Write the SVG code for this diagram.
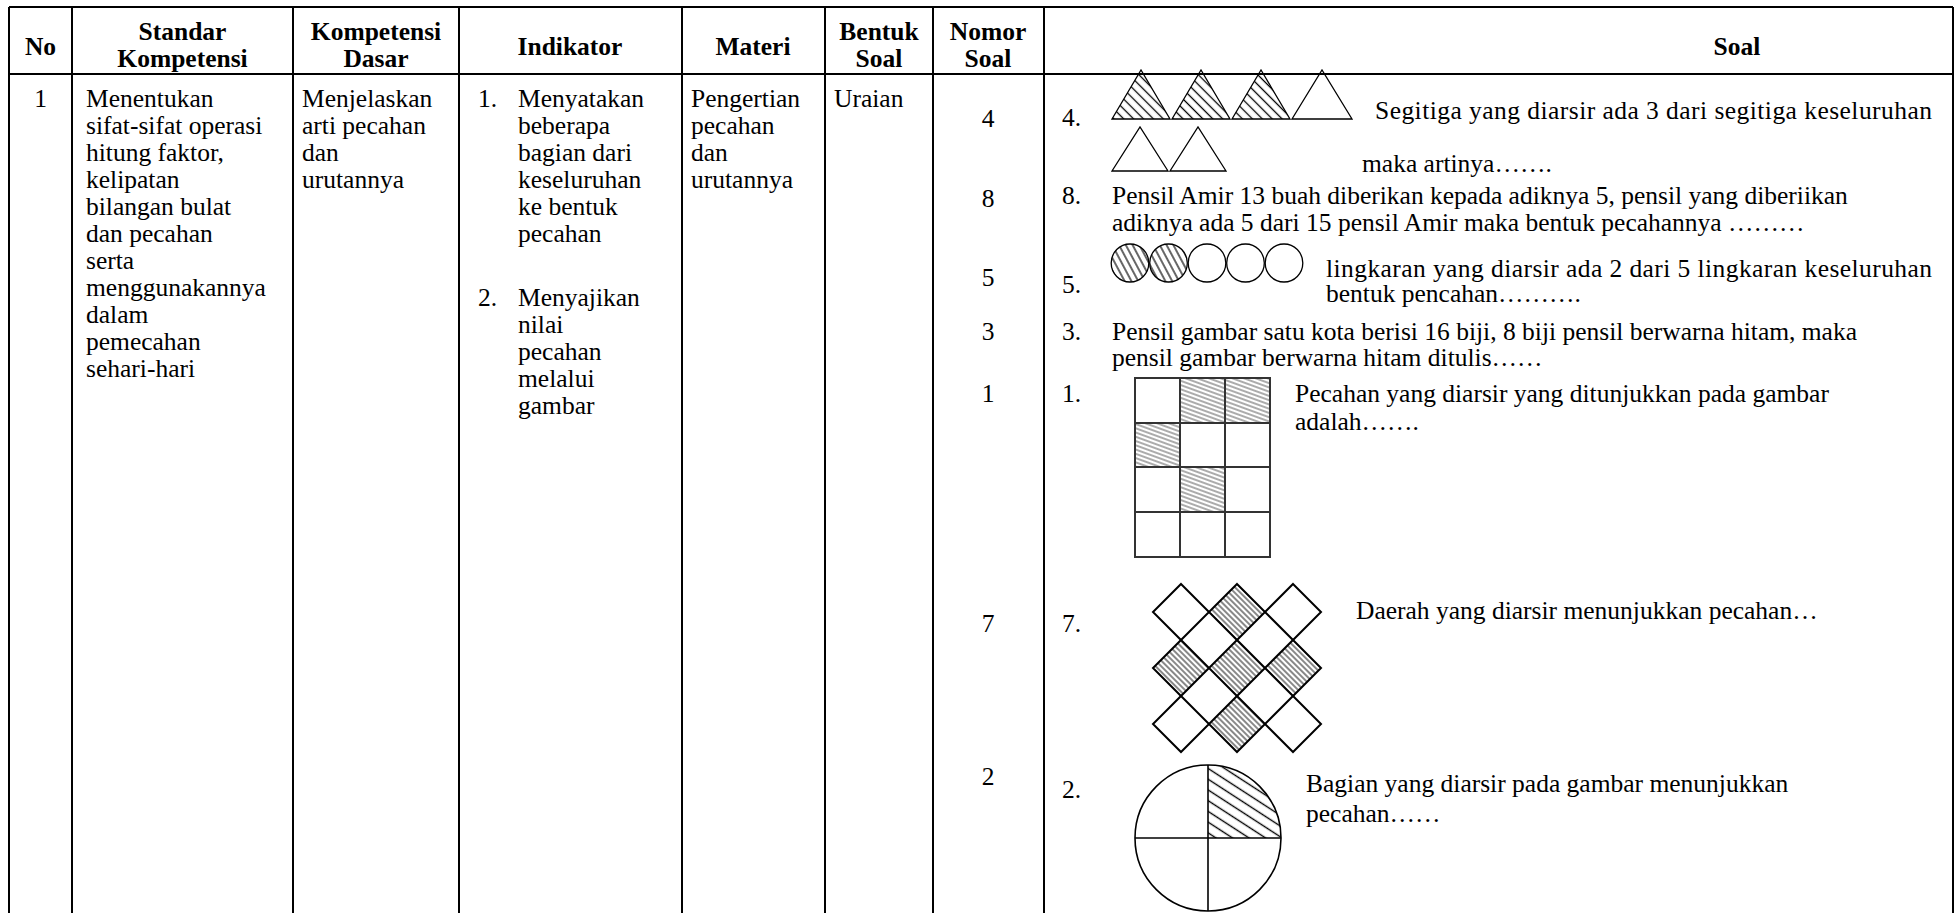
<svg xmlns="http://www.w3.org/2000/svg" width="1959" height="913" viewBox="0 0 1959 913">
<style>
text{font-family:"Liberation Serif","Times New Roman",serif;font-size:25.5px;fill:#000}
.h{font-weight:bold;text-anchor:middle}
.c{text-anchor:middle}
.tb{stroke:#000;stroke-width:2;fill:none}
.sh{stroke:#000;stroke-width:1.3}
.gr{fill:none;stroke:#333;stroke-width:2}
.dm{stroke:#000;stroke-width:2}
</style>
<defs>
<pattern id="pTri" width="7" height="7" patternUnits="userSpaceOnUse" patternTransform="rotate(45)"><line x1="0" y1="3.5" x2="7" y2="3.5" stroke="#000" stroke-width="1.3"/></pattern>
<pattern id="pCir" width="6" height="6" patternUnits="userSpaceOnUse" patternTransform="rotate(62)"><line x1="0" y1="3" x2="6" y2="3" stroke="#000" stroke-width="1.2"/></pattern>
<pattern id="pGrid" width="4" height="4" patternUnits="userSpaceOnUse" patternTransform="rotate(20)"><line x1="0" y1="2" x2="4" y2="2" stroke="#444" stroke-width="0.9"/></pattern>
<pattern id="pDia" width="4" height="4" patternUnits="userSpaceOnUse" patternTransform="rotate(-45)"><line x1="2" y1="0" x2="2" y2="4" stroke="#555" stroke-width="1.4"/></pattern>
<pattern id="pQ" width="9" height="9" patternUnits="userSpaceOnUse" patternTransform="rotate(33)"><line x1="0" y1="4.5" x2="9" y2="4.5" stroke="#000" stroke-width="1.4"/></pattern>
</defs>

<g id="table-lines">
<line class="tb" x1="9" y1="7" x2="1953" y2="7"/>
<line class="tb" x1="9" y1="74" x2="1953" y2="74"/>
<line class="tb" x1="9" y1="7" x2="9" y2="913"/>
<line class="tb" x1="72" y1="7" x2="72" y2="913"/>
<line class="tb" x1="293" y1="7" x2="293" y2="913"/>
<line class="tb" x1="459" y1="7" x2="459" y2="913"/>
<line class="tb" x1="682" y1="7" x2="682" y2="913"/>
<line class="tb" x1="825" y1="7" x2="825" y2="913"/>
<line class="tb" x1="933" y1="7" x2="933" y2="913"/>
<line class="tb" x1="1044" y1="7" x2="1044" y2="913"/>
<line class="tb" x1="1953" y1="7" x2="1953" y2="913"/>
</g>

<g id="header">
<text class="h" x="40.5" y="55">No</text>
<text class="h" x="182.5" y="40">Standar<tspan x="182.5" dy="27">Kompetensi</tspan></text>
<text class="h" x="376" y="40">Kompetensi<tspan x="376" dy="27">Dasar</tspan></text>
<text class="h" x="570" y="55">Indikator</text>
<text class="h" x="753" y="55">Materi</text>
<text class="h" x="879" y="40">Bentuk<tspan x="879" dy="27">Soal</tspan></text>
<text class="h" x="988" y="40">Nomor<tspan x="988" dy="27">Soal</tspan></text>
<text class="h" x="1737" y="55">Soal</text>
</g>

<g id="col-no"><text class="c" x="40.5" y="107">1</text></g>

<g id="col-sk">
<text x="86" y="107">Menentukan<tspan x="86" dy="27">sifat-sifat operasi</tspan><tspan x="86" dy="27">hitung faktor,</tspan><tspan x="86" dy="27">kelipatan</tspan><tspan x="86" dy="27">bilangan bulat</tspan><tspan x="86" dy="27">dan pecahan</tspan><tspan x="86" dy="27">serta</tspan><tspan x="86" dy="27">menggunakannya</tspan><tspan x="86" dy="27">dalam</tspan><tspan x="86" dy="27">pemecahan</tspan><tspan x="86" dy="27">sehari-hari</tspan></text>
</g>

<g id="col-kd">
<text x="302" y="107">Menjelaskan<tspan x="302" dy="27">arti pecahan</tspan><tspan x="302" dy="27">dan</tspan><tspan x="302" dy="27">urutannya</tspan></text>
</g>

<g id="col-indikator">
<text x="478" y="107">1.</text>
<text x="518" y="107">Menyatakan<tspan x="518" dy="27">beberapa</tspan><tspan x="518" dy="27">bagian dari</tspan><tspan x="518" dy="27">keseluruhan</tspan><tspan x="518" dy="27">ke bentuk</tspan><tspan x="518" dy="27">pecahan</tspan></text>
<text x="478" y="306">2.</text>
<text x="518" y="306">Menyajikan<tspan x="518" dy="27">nilai</tspan><tspan x="518" dy="27">pecahan</tspan><tspan x="518" dy="27">melalui</tspan><tspan x="518" dy="27">gambar</tspan></text>
</g>

<g id="col-materi">
<text x="691" y="107">Pengertian<tspan x="691" dy="27">pecahan</tspan><tspan x="691" dy="27">dan</tspan><tspan x="691" dy="27">urutannya</tspan></text>
</g>

<g id="col-bentuk"><text x="834" y="107">Uraian</text></g>

<g id="col-nomor">
<text class="c" x="988" y="127">4</text>
<text class="c" x="988" y="207">8</text>
<text class="c" x="988" y="286">5</text>
<text class="c" x="988" y="340">3</text>
<text class="c" x="988" y="402">1</text>
<text class="c" x="988" y="632">7</text>
<text class="c" x="988" y="785">2</text>
</g>

<g id="soal-4">
<text x="1062" y="126">4.</text>
<path d="M1112,119 L1141,70 L1170,119 Z" fill="url(#pTri)" class="sh"/>
<path d="M1172,119 L1201,70 L1230,119 Z" fill="url(#pTri)" class="sh"/>
<path d="M1232,119 L1261,70 L1290,119 Z" fill="url(#pTri)" class="sh"/>
<path d="M1292,119 L1322,70 L1352,119 Z" fill="none" class="sh"/>
<path d="M1112,171 L1140,127 L1168,171 Z" fill="none" class="sh"/>
<path d="M1170,171 L1198,127 L1226,171 Z" fill="none" class="sh"/>
<text x="1375" y="119" textLength="557">Segitiga yang diarsir ada 3 dari segitiga keseluruhan</text>
<text x="1362" y="172">maka artinya…….</text>
</g>

<g id="soal-8">
<text x="1062" y="204">8.</text>
<text x="1112" y="204">Pensil Amir 13 buah diberikan kepada adiknya 5, pensil yang diberiikan<tspan x="1112" dy="27">adiknya ada 5 dari 15 pensil Amir maka bentuk pecahannya ………</tspan></text>
</g>

<g id="soal-5">
<text x="1062" y="293">5.</text>
<ellipse cx="1130" cy="263" rx="18.8" ry="19" fill="url(#pCir)" class="sh"/>
<ellipse cx="1168.5" cy="263" rx="18.8" ry="19" fill="url(#pCir)" class="sh"/>
<ellipse cx="1207" cy="263" rx="18.8" ry="19" fill="none" class="sh"/>
<ellipse cx="1245.5" cy="263" rx="18.8" ry="19" fill="none" class="sh"/>
<ellipse cx="1284" cy="263" rx="18.8" ry="19" fill="none" class="sh"/>
<text x="1326" y="277"><tspan textLength="606">lingkaran yang diarsir ada 2 dari 5 lingkaran keseluruhan</tspan><tspan x="1326" dy="25">bentuk pencahan……….</tspan></text>
</g>

<g id="soal-3">
<text x="1062" y="340">3.</text>
<text x="1112" y="340">Pensil gambar satu kota berisi 16 biji, 8 biji pensil berwarna hitam, maka<tspan x="1112" dy="26">pensil gambar berwarna hitam ditulis……</tspan></text>
</g>

<g id="soal-1">
<text x="1062" y="402">1.</text>
<rect x="1180" y="378" width="45" height="45" fill="url(#pGrid)"/>
<rect x="1225" y="378" width="45" height="45" fill="url(#pGrid)"/>
<rect x="1135" y="423" width="45" height="44" fill="url(#pGrid)"/>
<rect x="1180" y="467" width="45" height="45" fill="url(#pGrid)"/>
<rect class="gr" x="1135" y="378" width="135" height="179"/>
<line class="gr" x1="1180" y1="378" x2="1180" y2="557"/>
<line class="gr" x1="1225" y1="378" x2="1225" y2="557"/>
<line class="gr" x1="1135" y1="423" x2="1270" y2="423"/>
<line class="gr" x1="1135" y1="467" x2="1270" y2="467"/>
<line class="gr" x1="1135" y1="512" x2="1270" y2="512"/>
<text x="1295" y="402">Pecahan yang diarsir yang ditunjukkan pada gambar<tspan x="1295" dy="28">adalah…….</tspan></text>
</g>

<g id="soal-7">
<text x="1062" y="632">7.</text>
<path class="dm" fill="none" d="M1181,584 L1209,612 L1181,640 L1153,612 Z"/>
<path class="dm" fill="url(#pDia)" d="M1237,584 L1265,612 L1237,640 L1209,612 Z"/>
<path class="dm" fill="none" d="M1293,584 L1321,612 L1293,640 L1265,612 Z"/>
<path class="dm" fill="url(#pDia)" d="M1181,640 L1209,668 L1181,696 L1153,668 Z"/>
<path class="dm" fill="url(#pDia)" d="M1237,640 L1265,668 L1237,696 L1209,668 Z"/>
<path class="dm" fill="url(#pDia)" d="M1293,640 L1321,668 L1293,696 L1265,668 Z"/>
<path class="dm" fill="none" d="M1181,696 L1209,724 L1181,752 L1153,724 Z"/>
<path class="dm" fill="url(#pDia)" d="M1237,696 L1265,724 L1237,752 L1209,724 Z"/>
<path class="dm" fill="none" d="M1293,696 L1321,724 L1293,752 L1265,724 Z"/>
<text x="1356" y="619">Daerah yang diarsir menunjukkan pecahan…</text>
</g>

<g id="soal-2">
<text x="1062" y="798">2.</text>
<path d="M1208,838 L1208,765 A73,73 0 0 1 1281,838 Z" fill="url(#pQ)"/>
<circle cx="1208" cy="838" r="73" fill="none" stroke="#000" stroke-width="1.6"/>
<line x1="1208" y1="765" x2="1208" y2="911" stroke="#000" stroke-width="1.6"/>
<line x1="1135" y1="838" x2="1281" y2="838" stroke="#000" stroke-width="1.6"/>
<text x="1306" y="792">Bagian yang diarsir pada gambar menunjukkan<tspan x="1306" dy="30">pecahan……</tspan></text>
</g>
</svg>
